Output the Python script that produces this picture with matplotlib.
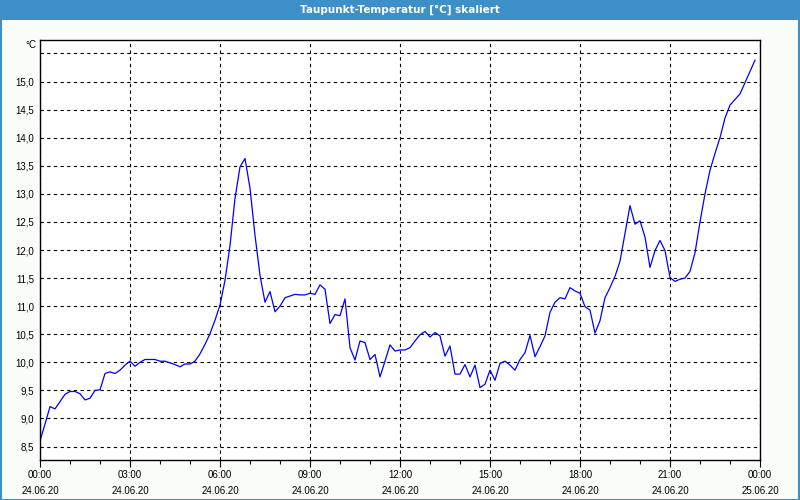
import matplotlib
matplotlib.use('Agg')
import matplotlib.pyplot as plt
import matplotlib.dates as mdates
import pandas as pd
from matplotlib.patches import Rectangle

# dew point, one reading every 10 minutes, 24.06.2020 00:00 .. 23:50
start = '2020-06-24 00:00'
end = '2020-06-25 00:00'
dewpoint = [
    8.60, 8.90, 9.21, 9.17, 9.30, 9.43, 9.48, 9.48, 9.44, 9.33, 9.36, 9.50,      # 00-01:50
    9.51, 9.80, 9.83, 9.80, 9.86, 9.95, 10.02, 9.93, 10.00, 10.05, 10.05, 10.05,  # 02-03:50
    10.02, 10.02, 9.99, 9.96, 9.92, 9.97, 9.97, 10.02, 10.15, 10.32, 10.51, 10.75,  # 04-05:50
    11.02, 11.46, 12.08, 12.92, 13.48, 13.63, 13.10, 12.26, 11.55, 11.07, 11.26, 10.90,  # 06-07:50
    11.00, 11.15, 11.18, 11.21, 11.20, 11.20, 11.23, 11.21, 11.38, 11.30, 10.69, 10.85,  # 08-09:50
    10.83, 11.13, 10.26, 10.04, 10.38, 10.35, 10.05, 10.14, 9.74, 10.02, 10.31, 10.20,  # 10-11:50
    10.22, 10.22, 10.26, 10.38, 10.49, 10.55, 10.45, 10.53, 10.47, 10.11, 10.29, 9.79,  # 12-13:50
    9.79, 9.96, 9.74, 9.95, 9.55, 9.61, 9.86, 9.68, 9.98, 10.02, 9.95, 9.86,      # 14-15:50
    10.05, 10.17, 10.48, 10.10, 10.28, 10.47, 10.89, 11.07, 11.15, 11.13, 11.33, 11.27,  # 16-17:50
    11.23, 10.99, 10.93, 10.52, 10.74, 11.15, 11.33, 11.53, 11.80, 12.30, 12.79, 12.46,  # 18-19:50
    12.52, 12.23, 11.69, 11.99, 12.17, 11.99, 11.51, 11.44, 11.48, 11.50, 11.62, 11.95,  # 20-21:50
    12.50, 13.00, 13.42, 13.72, 14.00, 14.35, 14.58, 14.68, 14.78, 14.98, 15.18, 15.38,  # 22-23:50
]
times = pd.date_range(start, periods=len(dewpoint), freq='10min')

y_ticks = [8.5, 9.0, 9.5, 10.0, 10.5, 11.0, 11.5, 12.0, 12.5, 13.0, 13.5, 14.0, 14.5, 15.0, 15.5]
y_labels = ['8,5', '9,0', '9,5', '10,0', '10,5', '11,0', '11,5', '12,0', '12,5',
            '13,0', '13,5', '14,0', '14,5', '15,0', '']

title = 'Taupunkt-Temperatur [°C] skaliert'
bar_blue = '#3d8fc7'

plt.rcParams['font.family'] = ['Liberation Sans', 'DejaVu Sans']

fig = plt.figure(figsize=(8, 5), dpi=100, facecolor='#fafcfa')
ax = fig.add_axes([0.05, 0.08, 0.90, 0.84])
ax.set_facecolor('white')

# title bar and window frame
fig.patches.append(Rectangle((0, 0.96), 1, 0.04, transform=fig.transFigure,
                             facecolor=bar_blue, edgecolor='none', zorder=0))
fig.patches.append(Rectangle((0.001, 0.001), 0.998, 0.998, transform=fig.transFigure,
                             facecolor='none', edgecolor=bar_blue, linewidth=1.5, zorder=0))
fig.text(0.5, 0.981, title, color='white', fontsize=7.5, fontweight='bold',
         ha='center', va='center', family=['DejaVu Sans'])

ax.plot(times, dewpoint, color='#0000ff', linewidth=0.9)

ax.set_xlim(pd.Timestamp(start), pd.Timestamp(end))
ax.set_ylim(8.26, 15.74)

ax.xaxis.set_major_locator(mdates.HourLocator(interval=3))
ax.xaxis.set_minor_locator(mdates.HourLocator(interval=1))
ax.xaxis.set_major_formatter(mdates.DateFormatter('%H:%M\n%d.%m.%y'))
ax.set_yticks(y_ticks)
ax.set_yticklabels(y_labels)

ax.grid(True, which='major', color='black', linestyle=(0, (3, 3)), linewidth=0.8)
ax.tick_params(axis='x', which='major', direction='out', length=5, width=0.8,
               labelsize=7, pad=2, color='black')
ax.tick_params(axis='x', which='minor', direction='out', length=3, width=0.8, color='black')
ax.tick_params(axis='y', length=0, labelsize=7, pad=4)
for lab in ax.get_xticklabels():
    lab.set_linespacing(1.75)

for s in ax.spines.values():
    s.set_color('black')
    s.set_linewidth(1.0)

ax.text(-0.005, 1.0, '°C', transform=ax.transAxes, ha='right', va='top', fontsize=7)

fig.savefig('out.png', dpi=100, facecolor=fig.get_facecolor())
